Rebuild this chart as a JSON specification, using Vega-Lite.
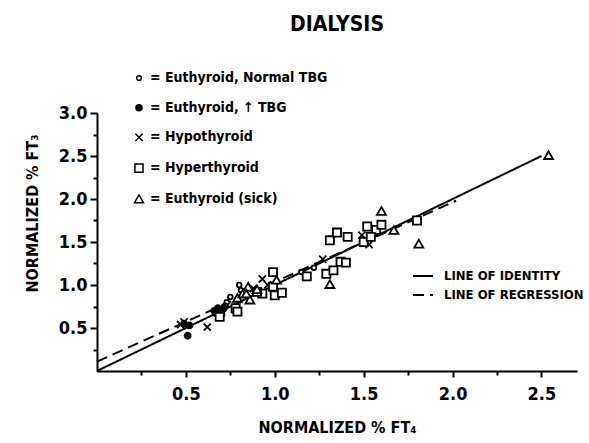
{
  "$schema": "https://vega.github.io/schema/vega-lite/v6.json",
  "width": 480,
  "height": 258,
  "autosize": "none",
  "padding": {"left": 97, "top": 113, "right": 12, "bottom": 72},
  "background": "white",
  "title": {"text": "DIALYSIS", "fontSize": 21, "font": "DejaVu Sans Condensed", "fontWeight": "bold", "anchor": "middle", "offset": 36, "color": "black"},
  "config": {
    "view": {"stroke": null},
    "font": "DejaVu Sans Condensed",
    "axis": {"domainColor": "black", "domainWidth": 2, "tickColor": "black", "tickWidth": 2, "labelColor": "black", "labelFont": "DejaVu Sans Condensed", "labelFontWeight": "bold", "labelFontSize": 18, "labelOverlap": false, "titleFont": "DejaVu Sans Condensed", "titleFontSize": 16, "titleFontWeight": "bold", "titleColor": "black", "grid": false},
    "legend": {"labelFont": "DejaVu Sans Condensed", "labelFontWeight": "bold", "labelColor": "black", "labelLimit": 400}
  },
  "resolve": {"axis": {"y": "independent"}},
  "datasets": {
    "points": [
      {"x": 0.75, "y": 0.86, "group": "Euthyroid, Normal TBG"},
      {"x": 0.80, "y": 1.00, "group": "Euthyroid, Normal TBG"},
      {"x": 0.81, "y": 0.94, "group": "Euthyroid, Normal TBG"},
      {"x": 1.15, "y": 1.15, "group": "Euthyroid, Normal TBG"},
      {"x": 1.22, "y": 1.20, "group": "Euthyroid, Normal TBG"},
      {"x": 0.73, "y": 0.80, "group": "Euthyroid, Normal TBG"},
      {"x": 0.51, "y": 0.41, "group": "Euthyroid, ↑ TBG"},
      {"x": 0.52, "y": 0.53, "group": "Euthyroid, ↑ TBG"},
      {"x": 0.49, "y": 0.55, "group": "Euthyroid, ↑ TBG"},
      {"x": 0.66, "y": 0.70, "group": "Euthyroid, ↑ TBG"},
      {"x": 0.68, "y": 0.73, "group": "Euthyroid, ↑ TBG"},
      {"x": 0.70, "y": 0.66, "group": "Euthyroid, ↑ TBG"},
      {"x": 0.71, "y": 0.72, "group": "Euthyroid, ↑ TBG"},
      {"x": 0.67, "y": 0.67, "group": "Euthyroid, ↑ TBG"},
      {"x": 0.72, "y": 0.75, "group": "Euthyroid, ↑ TBG"},
      {"x": 0.49, "y": 0.57, "group": "Hypothyroid"},
      {"x": 0.47, "y": 0.54, "group": "Hypothyroid"},
      {"x": 0.62, "y": 0.51, "group": "Hypothyroid"},
      {"x": 0.93, "y": 1.07, "group": "Hypothyroid"},
      {"x": 1.27, "y": 1.30, "group": "Hypothyroid"},
      {"x": 1.49, "y": 1.58, "group": "Hypothyroid"},
      {"x": 1.53, "y": 1.47, "group": "Hypothyroid"},
      {"x": 0.88, "y": 0.96, "group": "Hypothyroid"},
      {"x": 0.96, "y": 1.00, "group": "Hypothyroid"},
      {"x": 0.69, "y": 0.63, "group": "Hyperthyroid"},
      {"x": 0.78, "y": 0.73, "group": "Hyperthyroid"},
      {"x": 0.79, "y": 0.69, "group": "Hyperthyroid"},
      {"x": 0.93, "y": 0.90, "group": "Hyperthyroid"},
      {"x": 0.99, "y": 1.15, "group": "Hyperthyroid"},
      {"x": 1.00, "y": 0.88, "group": "Hyperthyroid"},
      {"x": 1.04, "y": 0.91, "group": "Hyperthyroid"},
      {"x": 0.99, "y": 0.98, "group": "Hyperthyroid"},
      {"x": 1.18, "y": 1.10, "group": "Hyperthyroid"},
      {"x": 1.31, "y": 1.52, "group": "Hyperthyroid"},
      {"x": 1.35, "y": 1.61, "group": "Hyperthyroid"},
      {"x": 1.41, "y": 1.56, "group": "Hyperthyroid"},
      {"x": 1.29, "y": 1.13, "group": "Hyperthyroid"},
      {"x": 1.33, "y": 1.17, "group": "Hyperthyroid"},
      {"x": 1.37, "y": 1.27, "group": "Hyperthyroid"},
      {"x": 1.40, "y": 1.26, "group": "Hyperthyroid"},
      {"x": 1.50, "y": 1.50, "group": "Hyperthyroid"},
      {"x": 1.52, "y": 1.68, "group": "Hyperthyroid"},
      {"x": 1.57, "y": 1.64, "group": "Hyperthyroid"},
      {"x": 1.60, "y": 1.70, "group": "Hyperthyroid"},
      {"x": 1.54, "y": 1.56, "group": "Hyperthyroid"},
      {"x": 1.80, "y": 1.75, "group": "Hyperthyroid"},
      {"x": 0.90, "y": 0.92, "group": "Hyperthyroid"},
      {"x": 0.79, "y": 0.85, "group": "Euthyroid (sick)"},
      {"x": 0.82, "y": 0.90, "group": "Euthyroid (sick)"},
      {"x": 0.86, "y": 0.83, "group": "Euthyroid (sick)"},
      {"x": 0.85, "y": 0.98, "group": "Euthyroid (sick)"},
      {"x": 0.84, "y": 0.90, "group": "Euthyroid (sick)"},
      {"x": 1.01, "y": 1.06, "group": "Euthyroid (sick)"},
      {"x": 1.31, "y": 1.01, "group": "Euthyroid (sick)"},
      {"x": 1.60, "y": 1.86, "group": "Euthyroid (sick)"},
      {"x": 1.67, "y": 1.64, "group": "Euthyroid (sick)"},
      {"x": 1.81, "y": 1.48, "group": "Euthyroid (sick)"},
      {"x": 2.54, "y": 2.51, "group": "Euthyroid (sick)"},
      {"x": 0.90, "y": 0.95, "group": "Euthyroid (sick)"}
    ],
    "lines": [
      {"x": 0, "y": 0, "line": "LINE OF IDENTITY"},
      {"x": 2.5, "y": 2.5, "line": "LINE OF IDENTITY"},
      {"x": 0, "y": 0.11, "line": "LINE OF REGRESSION"},
      {"x": 2.02, "y": 1.98, "line": "LINE OF REGRESSION"}
    ]
  },
  "layer": [
    {
      "data": {"name": "lines"},
      "mark": {"type": "line", "color": "black", "strokeWidth": 2},
      "encoding": {
        "x": {"field": "x", "type": "quantitative", "scale": {"domain": [0, 2.7], "nice": false, "zero": false},
          "axis": {"values": [0.25, 0.5, 0.75, 1.0, 1.25, 1.5, 1.75, 2.0, 2.25, 2.5],
            "labelExpr": "datum.value*2 == round(datum.value*2) ? format(datum.value, '.1f') : ''",
            "tickSize": {"condition": {"test": "datum.value*2 == round(datum.value*2)", "value": 6}, "value": 4},
            "labelPadding": 8, "title": "NORMALIZED % FT₄", "titlePadding": 16}},
        "y": {"field": "y", "type": "quantitative", "scale": {"domain": [0, 3], "nice": false, "zero": false},
          "axis": {"orient": "left", "values": [0.5, 1, 1.5, 2, 2.5, 3], "format": ".1f",
            "tickSize": 7,
            "labelPadding": 3, "title": "NORMALIZED % FT₃", "titlePadding": 18, "titleY": 100}},
        "strokeDash": {"field": "line", "type": "nominal",
          "scale": {"domain": ["LINE OF IDENTITY", "LINE OF REGRESSION"], "range": [[1, 0], [11, 6]]},
          "legend": {"title": null, "orient": "none", "legendX": 315, "legendY": 152, "symbolType": "stroke", "symbolSize": 400, "symbolStrokeWidth": 2, "symbolStrokeColor": "black", "labelFontSize": 13, "labelOffset": 10, "rowPadding": 1,
            "encoding": {"symbols": {"update": {"shape": {"value": "M-1.65,0H1.65"}, "stroke": {"value": "black"}, "strokeWidth": {"value": 2}}}}}}
      }
    },
    {
      "data": {"name": "points"},
      "mark": {"type": "point", "stroke": "black", "strokeWidth": 1.8, "opacity": 1},
      "encoding": {
        "x": {"field": "x", "type": "quantitative"},
        "y": {"field": "y", "type": "quantitative",
          "axis": {"orient": "left", "values": [0.25, 0.75, 1.25, 1.75, 2.25, 2.75], "labels": false, "domain": false, "tickSize": 4, "title": null}},
        "shape": {"field": "group", "type": "nominal",
          "scale": {"domain": ["Euthyroid, Normal TBG", "Euthyroid, ↑ TBG", "Hypothyroid", "Hyperthyroid", "Euthyroid (sick)"],
            "range": ["circle", "circle", "M-1,-1L1,1M1,-1L-1,1", "square", "triangle-up"]},
          "legend": {"title": null, "orient": "none", "legendX": 35, "legendY": -42, "labelExpr": "'= ' + datum.label", "labelFontSize": 14, "labelOffset": 4, "rowPadding": 15.7,
            "encoding": {"symbols": {"update": {"stroke": {"value": "black"}, "strokeWidth": {"value": 1.8}, "opacity": {"value": 1}}}}}},
        "fill": {"field": "group", "type": "nominal",
          "scale": {"domain": ["Euthyroid, Normal TBG", "Euthyroid, ↑ TBG", "Hypothyroid", "Hyperthyroid", "Euthyroid (sick)"],
            "range": ["white", "black", "white", "white", "white"]},
          "legend": {"title": null, "orient": "none", "legendX": 35, "legendY": -42, "labelExpr": "'= ' + datum.label", "labelFontSize": 14, "labelOffset": 4, "rowPadding": 15.7,
            "encoding": {"symbols": {"update": {"stroke": {"value": "black"}, "strokeWidth": {"value": 1.8}, "opacity": {"value": 1}}}}}},
        "size": {"field": "group", "type": "nominal",
          "scale": {"domain": ["Euthyroid, Normal TBG", "Euthyroid, ↑ TBG", "Hypothyroid", "Hyperthyroid", "Euthyroid (sick)"],
            "range": [22, 80, 45, 70, 55]},
          "legend": {"title": null, "orient": "none", "legendX": 35, "legendY": -42, "labelExpr": "'= ' + datum.label", "labelFontSize": 14, "labelOffset": 4, "rowPadding": 15.7,
            "encoding": {"symbols": {"update": {"stroke": {"value": "black"}, "strokeWidth": {"value": 1.8}, "opacity": {"value": 1}}}}}}
      }
    }
  ]
}
